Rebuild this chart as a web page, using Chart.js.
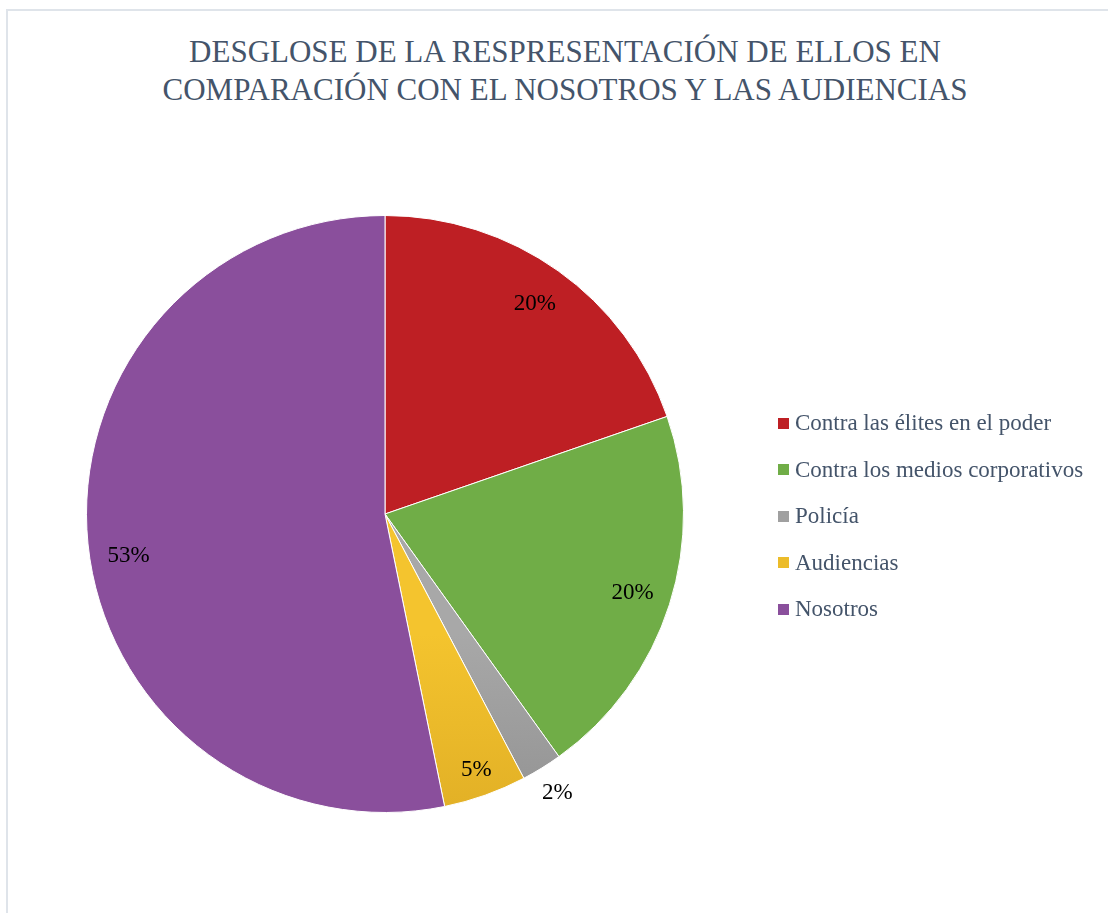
<!DOCTYPE html>
<html>
<head>
<meta charset="utf-8">
<script src="https://cdn.jsdelivr.net/npm/chart.js@4"></script>
<style>
  html, body { margin: 0; padding: 0; background: #fff; }
  body { width: 1108px; height: 913px; position: relative; overflow: hidden; }
  .frame {
    position: absolute; left: 6px; top: 9px; width: 1110px; height: 940px;
    border-top: 2px solid #dfe4ea; border-left: 2px solid #dfe4ea;
  }
  #title {
    position: absolute; left: 0; top: 33px; width: 1130px; text-align: center;
    font-family: "Liberation Serif", "Times New Roman", serif; font-size: 31px;
    line-height: 38px; color: #44546a;
  }
  #chart { position: absolute; left: 0; top: 0; }
  #legend {
    position: absolute; left: 778px; top: 400px;
    font-family: "Liberation Serif", "Times New Roman", serif; font-size: 23px;
    color: #44546a;
  }
  .item { height: 46.5px; display: flex; align-items: center; white-space: nowrap; }
  .sw { width: 11px; height: 11px; margin: 0 6px 0 0; flex: none; }
</style>
</head>
<body>
<div class="frame"></div>
<div id="title">DESGLOSE DE LA RESPRESENTACIÓN DE ELLOS EN<br>COMPARACIÓN CON EL NOSOTROS Y LAS AUDIENCIAS</div>
<canvas id="chart" width="1108" height="913"></canvas>
<div id="legend"></div>
<script>
// Pie slices, clockwise from 12 o'clock (%).
const categories = [
  "Contra las élites en el poder",
  "Contra los medios corporativos",
  "Policía",
  "Audiencias",
  "Nosotros",
];
const values = [19.7, 20.4, 2.2, 4.5, 53.2];
const colors = ["#be1f24", "#70ad47", "#a0a0a0", "#ecbc2a", "#8a4f9c"];
// slight top-to-bottom shading on the gray and yellow slices
const shade = [null, null, ["#a8a8a8", "#939393"], ["#f4c42e", "#e2b026"], null];

// where each percent label sits: fraction of the radius, angle nudge (deg)
const labelRadius = [0.865, 0.87, 1.1, 0.91, 0.87];
const labelNudge = [0, 0, 0, 0, -3.5];

const total = values.reduce((a, b) => a + b, 0);

function sliceColor(ctx) {
  const i = ctx.dataIndex;
  const s = shade[i];
  const area = ctx.chart.chartArea;
  if (!s || !area) return colors[i];
  const g = ctx.chart.ctx.createLinearGradient(0, area.top + area.height * 0.7, 0, area.bottom);
  g.addColorStop(0, s[0]);
  g.addColorStop(1, s[1]);
  return g;
}

const pieLabels = {
  id: "pieLabels",
  afterDatasetsDraw(chart) {
    const ctx = chart.ctx;
    ctx.save();
    ctx.font = '23px "Liberation Serif", "Times New Roman", serif';
    ctx.fillStyle = "#000";
    ctx.textAlign = "center";
    ctx.textBaseline = "middle";
    chart.getDatasetMeta(0).data.forEach((arc, i) => {
      const mid = (arc.startAngle + arc.endAngle) / 2 + labelNudge[i] * Math.PI / 180;
      const r = arc.outerRadius * labelRadius[i];
      const x = arc.x + Math.cos(mid) * r;
      const y = arc.y + Math.sin(mid) * r;
      ctx.fillText(Math.round(values[i] / total * 100) + "%", x, y);
    });
    ctx.restore();
  },
};

new Chart(document.getElementById("chart"), {
  type: "pie",
  data: {
    labels: categories,
    datasets: [{
      data: values,
      backgroundColor: sliceColor,
      borderColor: "#ffffff",
      borderWidth: 1,
    }],
  },
  options: {
    responsive: false,
    animation: false,
    layout: { padding: { left: 86, top: 215, right: 424, bottom: 100 } },
    plugins: {
      legend: { display: false },
      tooltip: { enabled: false },
    },
  },
  plugins: [pieLabels],
});

document.getElementById("legend").innerHTML = categories
  .map((c, i) => `<div class="item"><span class="sw" style="background:${colors[i]}"></span>${c}</div>`)
  .join("");
</script>
</body>
</html>
